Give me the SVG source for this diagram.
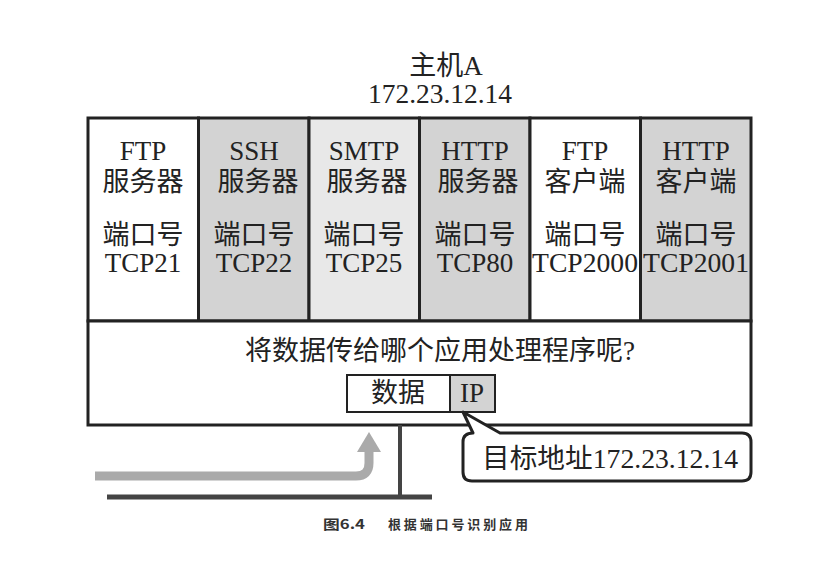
<svg xmlns="http://www.w3.org/2000/svg" width="820" height="564" viewBox="0 0 820 564">
<style>
.t{font-family:"Liberation Serif","Noto Sans CJK SC",serif;font-size:27px;fill:#222;text-anchor:middle}
.cap{font-family:"Noto Sans CJK SC",serif;font-size:13px;fill:#333;font-weight:bold}
.col{stroke:#222;stroke-width:3}
</style>
<rect width="820" height="564" fill="#fff"/>
<g id="title"><text class="t" x="446" y="75">主机A</text><text class="t" x="440" y="103" textLength="144" lengthAdjust="spacingAndGlyphs">172.23.12.14</text></g>
<g id="col1"><rect class="col" x="88" y="118" width="110.5" height="203" fill="#fff"/><text class="t" x="143" y="160">FTP</text><text class="t" x="143" y="191">服务器</text><text class="t" x="143" y="244">端口号</text><text class="t" x="143" y="272">TCP21</text></g>
<g id="col2"><rect class="col" x="198.5" y="118" width="110.5" height="203" fill="#d3d3d3"/><text class="t" x="254" y="160">SSH</text><text class="t" x="258" y="191">服务器</text><text class="t" x="254" y="244">端口号</text><text class="t" x="254" y="272">TCP22</text></g>
<g id="col3"><rect class="col" x="309" y="118" width="110.5" height="203" fill="#e8e8e8"/><text class="t" x="364" y="160">SMTP</text><text class="t" x="367" y="191">服务器</text><text class="t" x="364" y="244">端口号</text><text class="t" x="364" y="272">TCP25</text></g>
<g id="col4"><rect class="col" x="419.5" y="118" width="110.5" height="203" fill="#d3d3d3"/><text class="t" x="475" y="160">HTTP</text><text class="t" x="478" y="191">服务器</text><text class="t" x="475" y="244">端口号</text><text class="t" x="475" y="272">TCP80</text></g>
<g id="col5"><rect class="col" x="530" y="118" width="110.5" height="203" fill="#fff"/><text class="t" x="585" y="160">FTP</text><text class="t" x="585" y="191">客户端</text><text class="t" x="585" y="244">端口号</text><text class="t" x="585" y="272" textLength="106" lengthAdjust="spacingAndGlyphs">TCP2000</text></g>
<g id="col6"><rect class="col" x="640.5" y="118" width="110.5" height="203" fill="#d3d3d3"/><text class="t" x="696" y="160">HTTP</text><text class="t" x="696" y="191">客户端</text><text class="t" x="696" y="244">端口号</text><text class="t" x="696" y="272" textLength="106" lengthAdjust="spacingAndGlyphs">TCP2001</text></g>
<g id="host"><rect class="col" x="88" y="321" width="663" height="104" fill="#fff"/><text class="t" x="440" y="360">将数据传给哪个应用处理程序呢?</text></g>
<g id="packet"><rect x="347" y="375" width="103" height="37" fill="#fff" stroke="#222" stroke-width="2"/><text class="t" x="398" y="402">数据</text><rect x="450" y="375" width="45" height="37" fill="#d3d3d3" stroke="#222" stroke-width="2"/><text class="t" x="472" y="402">IP</text></g>
<g id="connectors">
<line x1="400" y1="425" x2="400" y2="497" stroke="#444" stroke-width="4"/>
<line x1="107" y1="497" x2="432" y2="497" stroke="#444" stroke-width="5"/>
<path d="M95 476 H356 Q369 476 369 463 V450" fill="none" stroke="#aaa" stroke-width="9"/>
<polygon points="357,452 381,452 369,432" fill="#aaa"/>
</g>
<g id="callout"><path d="M473 433 L463 412 L500 433 H742 Q751 433 751 442 V472 Q751 481 742 481 H472 Q463 481 463 472 V442 Q463 433 473 433 Z" fill="#fff" stroke="#222" stroke-width="3" stroke-linejoin="round"/><text class="t" x="610" y="468" textLength="256" lengthAdjust="spacingAndGlyphs">目标地址172.23.12.14</text></g>
<g id="caption"><text class="cap" x="323" y="529" textLength="42" lengthAdjust="spacingAndGlyphs">图6.4</text><text class="cap" x="388" y="529" textLength="140" lengthAdjust="spacing">根据端口号识别应用</text></g>
</svg>
